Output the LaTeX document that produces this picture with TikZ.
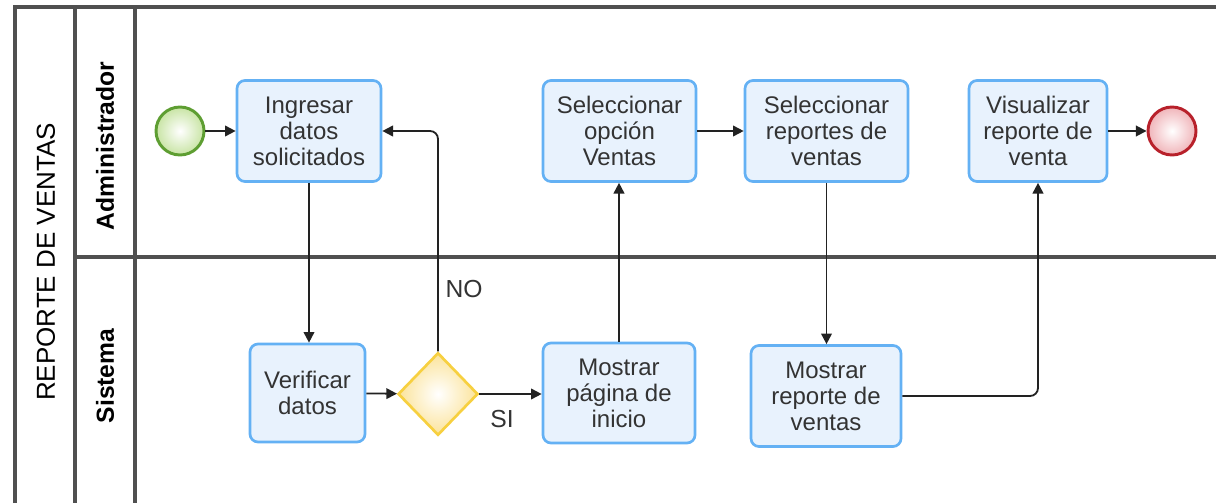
\documentclass[tikz,border=0pt]{standalone}
\usepackage{fontspec}
\setmainfont{Liberation Sans}
\usetikzlibrary{shapes.geometric,arrows.meta}
\definecolor{poolc}{HTML}{505050}
\definecolor{taskc}{HTML}{64B1F4}
\definecolor{taskf}{HTML}{E8F2FD}
\definecolor{txt}{HTML}{333333}
\definecolor{startc}{HTML}{5E9E32}
\definecolor{startf}{HTML}{C8E4A4}
\definecolor{endc}{HTML}{B8212B}
\definecolor{endf}{HTML}{F0B4B9}
\definecolor{gatec}{HTML}{F7D040}
\definecolor{gatef}{HTML}{FBE39A}
\definecolor{flowc}{HTML}{222222}
\tikzset{
  pool/.style={draw=poolc, line width=2.3pt},
  task/.style={draw=taskc, fill=taskf, line width=2pt, rounded corners=6pt,
    align=center, text=txt, font=\fontsize{18}{19.5}\selectfont, inner sep=0pt},
  startev/.style={circle, draw=startc, line width=2.2pt, inner color=white, outer color=startf, minimum size=36pt, inner sep=0pt},
  endev/.style={circle, draw=endc, line width=2.2pt, inner color=white, outer color=endf, minimum size=36pt, inner sep=0pt},
  gate/.style={diamond, draw=gatec, line width=2pt, inner color=white, outer color=gatef, minimum width=60pt, minimum height=62pt, inner sep=0pt},
  flow/.style={draw=flowc, line width=1.35pt, -{Triangle[length=8pt,width=8pt]}, rounded corners=6pt},
  lbl/.style={text=txt, font=\fontsize{18.5}{20}\selectfont, inner sep=0pt},
  lane/.style={text=black, font=\bfseries\fontsize{18.5}{20}\selectfont, rotate=90, inner sep=0pt},
}
\begin{document}
\begin{tikzpicture}[x=0.75pt,y=-0.75pt]
\useasboundingbox (0,0) rectangle (1216,503);
% pool and lanes
\draw[pool] (15,503) -- (15,7) -- (1216,7);
\draw[pool] (75,7) -- (75,503);
\draw[pool] (135,7) -- (135,503);
\draw[pool] (75,257) -- (1216,257);
\node[rotate=90, text=black, font=\fontsize{19.5}{21}\selectfont, inner sep=0pt] (pooltitle) at (46,262) {REPORTE DE VENTAS};
\node[lane] (laneA) at (105,146) {Administrador};
\node[lane] (laneS) at (105,376) {Sistema};
% nodes
\node[startev] (st) at (180,131) {};
\node[task, minimum width=108pt, minimum height=75.75pt] (ing) at (309,131) {Ingresar\\datos\\solicitados};
\node[task, minimum width=114.75pt, minimum height=75.75pt] (selo) at (619.5,131) {Seleccionar\\opción\\Ventas};
\node[task, minimum width=122.25pt, minimum height=75.75pt] (selr) at (826.5,131) {Seleccionar\\reportes de\\ventas};
\node[task, minimum width=103.5pt, minimum height=75.75pt] (vis) at (1038,131) {Visualizar\\reporte de\\venta};
\node[endev] (en) at (1172,131) {};
\node[task, minimum width=86.25pt, minimum height=73.5pt] (ver) at (307.5,393) {Verificar\\datos};
\node[gate] (gw) at (438,394) {};
\node[task, minimum width=114pt, minimum height=75pt] (mpi) at (619,393) {Mostrar\\página de\\inicio};
\node[task, minimum width=112.5pt, minimum height=75.75pt] (mrv) at (826,396) {Mostrar\\reporte de\\ventas};
% flows
\draw[flow] (st) -- (ing);
\draw[flow] (ing.south) -- (ing.south |- ver.north);
\draw[flow] (ver) -- (gw);
\draw[flow] (gw.north) |- (ing.east);
\node[lbl] (no) at (464,289) {NO};
\draw[flow] (gw.east) -- (mpi.west |- gw.east);
\node[lbl] (si) at (502,419) {SI};
\draw[flow] (mpi.north) -- (mpi.north |- selo.south);
\draw[flow] (selo) -- (selr);
\draw[flow] (selr.south) -- (selr.south |- mrv.north);
\draw[flow] (mrv.east) -| (vis.south);
\draw[flow] (vis) -- (en);
\end{tikzpicture}
\end{document}
